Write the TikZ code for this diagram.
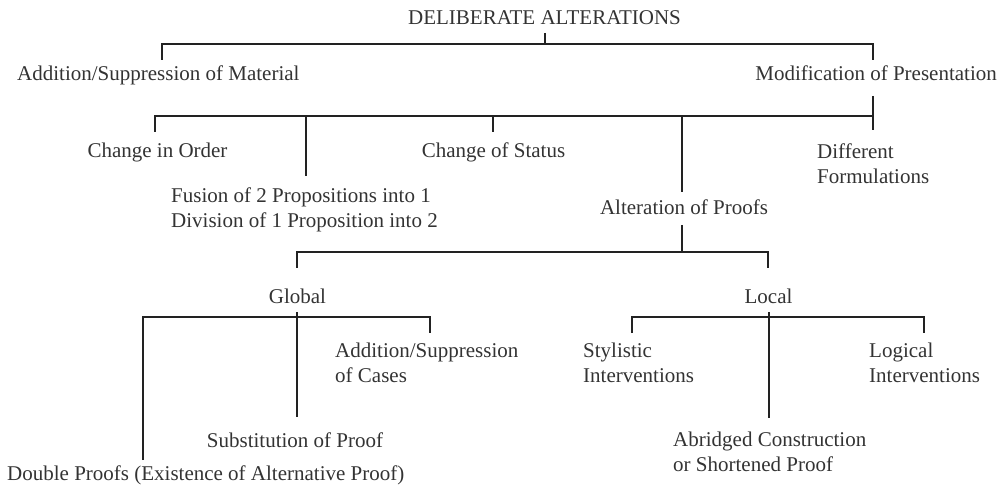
\documentclass[tikz,border=0pt]{standalone}
\usepackage{fontspec}
\setmainfont{Liberation Serif}
\definecolor{txt}{HTML}{333333}
\definecolor{lin}{HTML}{222222}
\newcommand{\fsz}{\fontsize{21}{25}\selectfont}
\begin{document}
\begin{tikzpicture}[x=1pt,y=-1pt,
  lbl/.style={inner sep=0pt, font=\fsz, text=txt},
  ln/.style={draw=lin, line width=1.3pt}]
\useasboundingbox (0,0) rectangle (1001,486);
% nodes (multi-line nodes are anchored at the baseline of their last line)
\node[lbl,anchor=base] (root) at (544.5,25) {DELIBERATE ALTERATIONS};
\node[lbl,anchor=base west] (asm) at (17,81) {Addition/Suppression of Material};
\node[lbl,anchor=base east] (mp) at (997,81) {Modification of Presentation};
\node[lbl,anchor=base] (cio) at (157.5,158) {Change in Order};
\node[lbl,anchor=base] (cos) at (493.5,158) {Change of Status};
\node[lbl,anchor=base west,align=left] (df) at (817,184) {Different\\Formulations};
\node[lbl,anchor=base west,align=left] (fus) at (171,228) {Fusion of 2 Propositions into 1\\Division of 1 Proposition into 2};
\node[lbl,anchor=base] (aop) at (684,215) {Alteration of Proofs};
\node[lbl,anchor=base] (glob) at (297.5,303) {Global};
\node[lbl,anchor=base] (loc) at (768.5,303) {Local};
\node[lbl,anchor=base west,align=left] (asc) at (335,382) {Addition/Suppression\\of Cases};
\node[lbl,anchor=base west,align=left] (sty) at (583,382) {Stylistic\\Interventions};
\node[lbl,anchor=base west,align=left] (log) at (869,382) {Logical\\Interventions};
\node[lbl,anchor=base] (sub) at (295,447) {Substitution of Proof};
\node[lbl,anchor=base west,align=left] (abr) at (673,471) {Abridged Construction\\or Shortened Proof};
\node[lbl,anchor=base west] (dbl) at (7,480) {Double Proofs (Existence of Alternative Proof)};
% connector end points
\coordinate (rootB) at (545,33);
\coordinate (b0) at (545,44);
\coordinate (asmT) at (162,60);
\coordinate (mpT) at (873,60);
\coordinate (mpB) at (873,96);
\coordinate (b1) at (873,116);
\coordinate (dfT) at (873,130);
\coordinate (cioT) at (155,132);
\coordinate (fusT) at (306,176);
\coordinate (cosT) at (493,132);
\coordinate (aopT) at (682,192);
\coordinate (aopB) at (682,225);
\coordinate (b2) at (682,252);
\coordinate (globT) at (297,268);
\coordinate (locT) at (768,268);
\coordinate (globB) at (297,312);
\coordinate (locB) at (769,312);
\coordinate (b3) at (297,317);
\coordinate (b4) at (769,317);
\coordinate (dblT) at (143,460);
\coordinate (subT) at (297,417);
\coordinate (ascT) at (430,333);
\coordinate (styT) at (632,333);
\coordinate (abrT) at (769,418);
\coordinate (logT) at (924,333);
% connectors
\draw[ln] (rootB) -- (b0);
\draw[ln] (asmT) |- (b0) -| (mpT);
\draw[ln] (mpB) -- (dfT);
\draw[ln] (cioT) |- (b1);
\draw[ln] (fusT) -- (fusT |- b1);
\draw[ln] (cosT) -- (cosT |- b1);
\draw[ln] (aopT) -- (aopT |- b1);
\draw[ln] (aopB) -- (b2);
\draw[ln] (globT) |- (b2) -| (locT);
\draw[ln] (globB) -- (subT);
\draw[ln] (dblT) |- (b3) -| (ascT);
\draw[ln] (locB) -- (abrT);
\draw[ln] (styT) |- (b4) -| (logT);
\end{tikzpicture}
\end{document}
